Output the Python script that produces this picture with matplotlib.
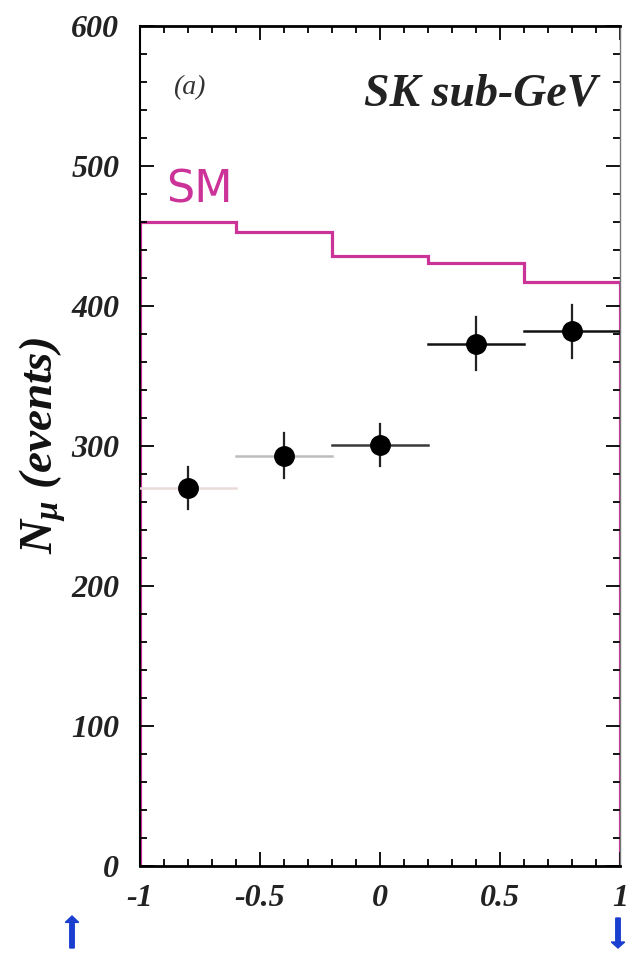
import matplotlib.pyplot as plt
from matplotlib.ticker import MultipleLocator

plt.rcParams['mathtext.fontset'] = 'custom'
plt.rcParams['mathtext.it'] = 'Liberation Serif:italic:bold'
plt.rcParams['mathtext.rm'] = 'Liberation Serif:bold'
plt.rcParams['mathtext.bf'] = 'Liberation Serif:bold'

# SM expectation (histogram in cos(zenith) bins)
bin_edges = [-1.0, -0.6, -0.2, 0.2, 0.6, 1.0]
sm_counts = [460, 453, 436, 431, 417]

# SK sub-GeV data points
x_data = [-0.8, -0.4, 0.0, 0.4, 0.8]
y_data = [270, 293, 301, 373, 382]
y_err = [15, 16, 15, 19, 19]
x_err = [0.2, 0.2, 0.2, 0.2, 0.2]
bar_colors = ['#eadada', '#bdbdbd', '#3a3a3a', '#111111', '#111111']

x_ticks = [-1, -0.5, 0, 0.5, 1]
x_ticklabels = ['-1', '-0.5', '0', '0.5', '1']
y_ticks = [0, 100, 200, 300, 400, 500, 600]

serif = {'family': 'Liberation Serif', 'weight': 'bold', 'style': 'italic'}

fig = plt.figure(figsize=(6.37, 9.59), dpi=100)
ax = fig.add_axes([0.2198, 0.097, 0.7535, 0.876])

ax.stairs(sm_counts, bin_edges, color='#cc3399', linewidth=2.3)

for i in range(len(x_data)):
    ax.plot([x_data[i] - x_err[i], x_data[i] + x_err[i]], [y_data[i], y_data[i]],
            color=bar_colors[i], linewidth=1.8, zorder=3)
    ax.plot([x_data[i], x_data[i]], [y_data[i] - y_err[i], y_data[i] + y_err[i]],
            color='#222222', linewidth=1.6, zorder=3)
ax.plot(x_data, y_data, 'o', color='black', markersize=14, zorder=4)

ax.set_xlim(-1, 1)
ax.set_ylim(0, 600)
ax.set_xticks(x_ticks)
ax.set_xticklabels(x_ticklabels, fontdict=serif, fontsize=23, color='#222222')
ax.set_yticks(y_ticks)
ax.set_yticklabels([str(v) for v in y_ticks], fontdict=serif, fontsize=23, color='#222222')
ax.xaxis.set_minor_locator(MultipleLocator(0.1))
ax.yaxis.set_minor_locator(MultipleLocator(20))
ax.tick_params(which='both', direction='in', top=True, right=True, width=1.3)
ax.tick_params(which='major', length=10)
ax.tick_params(axis='x', which='major', pad=13)
ax.tick_params(axis='y', which='major', pad=15)
ax.tick_params(which='minor', length=5)

ax.spines['top'].set_linewidth(2)
ax.spines['left'].set_linewidth(1.5)
ax.spines['bottom'].set_linewidth(2)
ax.spines['right'].set_linewidth(1)
ax.spines['right'].set_color('#777777')

ax.set_ylabel(r'$N_{\mu}$ (events)', fontdict=serif, fontsize=34, labelpad=2,
              color='#111111')

ax.text(0.069, 0.927, '(a)', transform=ax.transAxes, fontsize=20, va='center',
        family='Liberation Serif', style='italic', color='#333333')
ax.text(0.952, 0.918, 'SK sub-GeV', transform=ax.transAxes, ha='right', va='center',
        fontsize=33, color='#222222', **serif)
ax.text(0.055, 0.805, 'SM', transform=ax.transAxes, fontsize=32, va='center',
        color='#cc3399', family='DejaVu Sans')

# blue direction arrows under the axis ends
fig.patches.append(plt.Arrow(72 / 637, 1 - 948 / 959, 0, 32 / 959, width=0.035,
                             color='#1a3fd0', transform=fig.transFigure))
fig.patches.append(plt.Arrow(618 / 637, 1 - 918 / 959, 0, -30 / 959, width=0.035,
                             color='#1a3fd0', transform=fig.transFigure))

fig.savefig('out.png', dpi=100)
